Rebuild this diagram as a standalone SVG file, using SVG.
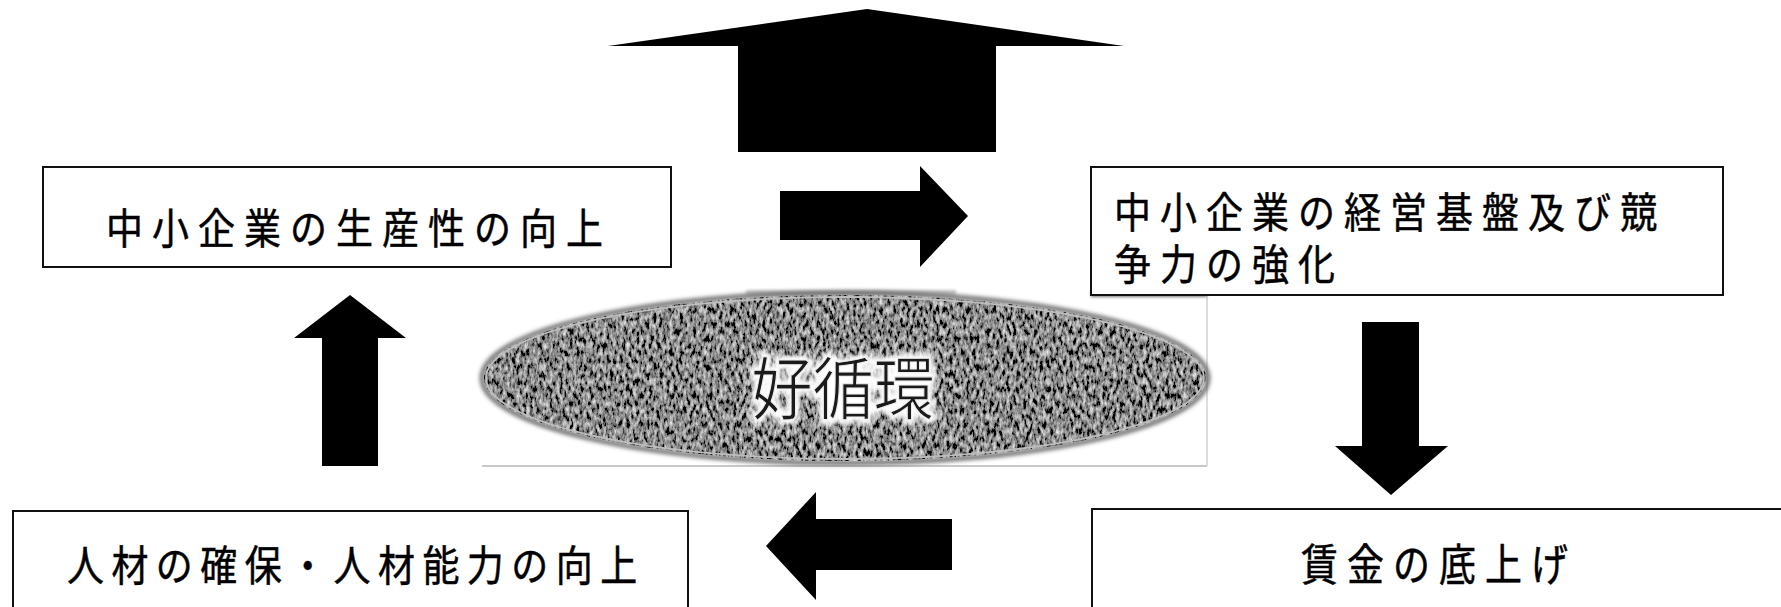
<svg xmlns="http://www.w3.org/2000/svg" width="1781" height="607" viewBox="0 0 1781 607">
<style>
.box{fill:#fff;stroke:#111;stroke-width:2}
.t{font-family:"Noto Sans CJK JP","Noto Sans CJK SC",sans-serif;font-size:42px;fill:#000;stroke:#000;stroke-width:0.5;dominant-baseline:central;letter-spacing:10.3px}
.arr{fill:#000}
.big{font-family:"Noto Sans CJK JP","Noto Sans CJK SC",sans-serif;font-size:68px;dominant-baseline:central;text-anchor:middle}
</style>
<defs>
<filter id="tex" x="-5%" y="-5%" width="110%" height="110%">
<feTurbulence type="fractalNoise" baseFrequency="0.3 0.14" numOctaves="3" seed="7" result="n"/>
<feColorMatrix in="n" type="matrix" values="1.5 0 0 0 -0.5  1.5 0 0 0 -0.5  1.5 0 0 0 -0.5  0 0 0 0 1" result="g"/>
<feGaussianBlur in="g" stdDeviation="0.7" result="b"/>
<feComposite in="b" in2="SourceGraphic" operator="in"/>
</filter>
<filter id="glow" x="-20%" y="-20%" width="140%" height="140%">
<feGaussianBlur stdDeviation="2.5"/>
</filter>
<filter id="soft" x="-10%" y="-100%" width="120%" height="300%">
<feGaussianBlur stdDeviation="1.5"/>
</filter>
<filter id="edge" x="-5%" y="-10%" width="110%" height="120%">
<feGaussianBlur stdDeviation="2"/>
</filter>
</defs>
<rect width="1781" height="607" fill="#fff"/>

<g id="center">
<rect x="482" y="293" width="725" height="173" fill="#fff"/>
<line x1="482" y1="466" x2="1207" y2="466" stroke="#c8c8c8" stroke-width="2"/>
<line x1="1207" y1="296" x2="1207" y2="466" stroke="#d0d0d0" stroke-width="1.5"/>
<rect x="746" y="290" width="210" height="5" fill="#c4c4c4" filter="url(#soft)"/>
<rect x="1091" y="291" width="116" height="6" fill="#777" filter="url(#soft)"/>
<ellipse cx="845" cy="378" rx="363" ry="85" fill="none" stroke="#555" stroke-width="4" filter="url(#edge)"/>
<ellipse cx="845" cy="378" rx="361" ry="83" fill="#000" filter="url(#tex)"/>
<ellipse cx="845" cy="378" rx="359" ry="81" fill="none" stroke="#bdbdbd" stroke-width="1.8"/>
<text class="big" x="843" y="385" fill="none" stroke="#fff" stroke-width="9" filter="url(#glow)" transform="translate(843,0) scale(0.9,1) translate(-843,0)">好循環</text>
<text class="big" x="843" y="385" fill="#1a1a1a" stroke="#eee" stroke-width="1.2" transform="translate(843,0) scale(0.9,1) translate(-843,0)">好循環</text>
</g>

<g id="node-productivity">
<rect class="box" x="43" y="167" width="628" height="100"/>
<text class="t" transform="translate(106,225) scale(0.88,1)">中小企業の生産性の向上</text>
</g>

<g id="node-competitiveness">
<rect class="box" x="1091" y="167" width="632" height="128"/>
<text class="t" transform="translate(1114,209) scale(0.88,1)"><tspan x="0" y="0">中小企業の経営基盤及び競</tspan><tspan x="0" y="52">争力の強化</tspan></text>
</g>

<g id="node-talent">
<rect class="box" x="13" y="511" width="675" height="120"/>
<text class="t" transform="translate(67,562) scale(0.88,1)" style="letter-spacing:8.5px">人材の確保・人材能力の向上</text>
</g>

<g id="node-wages">
<rect class="box" x="1092" y="509" width="720" height="120"/>
<text class="t" transform="translate(1301,562) scale(0.88,1.05)">賃金の底上げ</text>
</g>

<g id="connectors">
<polygon class="arr" points="867,9 1124,46 996,46 996,152 738,152 738,46 608,46"/>
<polygon class="arr" points="780,191 920,191 920,166 968,216 920,267 920,240 780,240"/>
<polygon class="arr" points="1362,322 1419,322 1419,446 1448,446 1391,495 1335,446 1362,446"/>
<polygon class="arr" points="952,519 816,519 816,492 766,546 816,600 816,570 952,570"/>
<polygon class="arr" points="350,295 406,338 378,338 378,466 322,466 322,338 294,338"/>
</g>
</svg>
